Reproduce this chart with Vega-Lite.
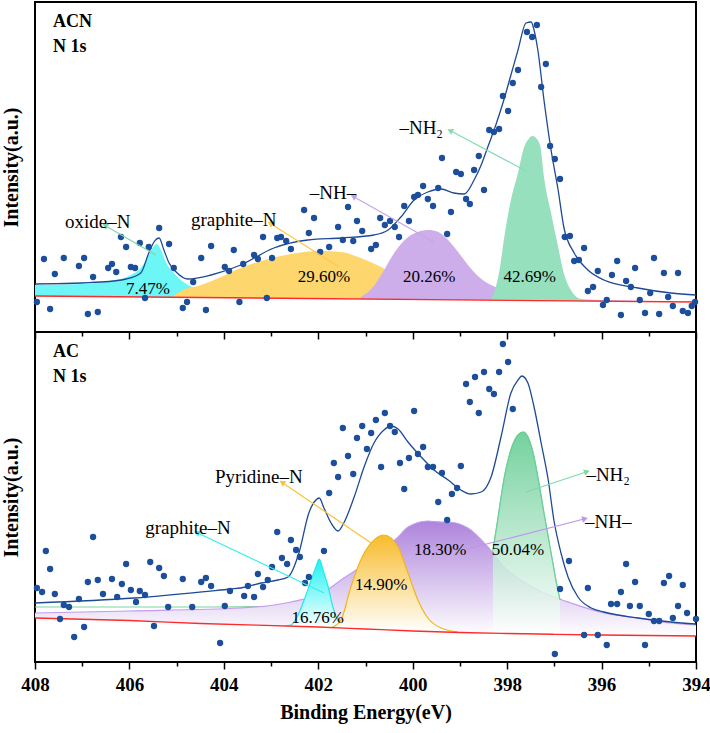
{
"$schema": "https://vega.github.io/schema/vega-lite/v6.json",
"background": "white",
"padding": {"left": 0, "top": 1, "right": 0, "bottom": 4},
"bounds": "flush",
"spacing": 0,
"config": {"view": {"stroke": "#000000", "strokeWidth": 2}, "axis": {"grid": false}, "text": {"font": "Liberation Serif", "color": "#000000"}},
"datasets": {
"top_pts": [{"be":407.96,"I":30},{"be":407.81,"I":73},{"be":407.68,"I":23},{"be":407.58,"I":58},{"be":407.39,"I":74},{"be":407.07,"I":66},{"be":406.96,"I":74},{"be":406.88,"I":18},{"be":406.77,"I":55},{"be":406.67,"I":20},{"be":406.45,"I":64},{"be":406.37,"I":68},{"be":406.28,"I":60},{"be":406.18,"I":95},{"be":406.07,"I":85},{"be":405.97,"I":65},{"be":405.88,"I":64},{"be":405.78,"I":89},{"be":405.67,"I":34},{"be":405.59,"I":85},{"be":405.37,"I":104},{"be":405.16,"I":88},{"be":405.06,"I":64},{"be":404.87,"I":24},{"be":404.78,"I":30},{"be":404.65,"I":50},{"be":404.48,"I":74},{"be":404.38,"I":22},{"be":404.27,"I":86},{"be":403.98,"I":65},{"be":403.89,"I":61},{"be":403.79,"I":82},{"be":403.67,"I":30},{"be":403.59,"I":68},{"be":403.36,"I":77},{"be":403.28,"I":73},{"be":403.17,"I":95},{"be":403.09,"I":34},{"be":402.98,"I":74},{"be":402.87,"I":94},{"be":402.79,"I":95},{"be":402.68,"I":91},{"be":402.58,"I":83},{"be":402.30,"I":122},{"be":402.20,"I":99},{"be":402.09,"I":114},{"be":401.96,"I":80},{"be":401.77,"I":85},{"be":401.58,"I":105},{"be":401.48,"I":92},{"be":401.37,"I":125},{"be":401.26,"I":91},{"be":401.18,"I":111},{"be":401.07,"I":101},{"be":400.88,"I":83},{"be":400.78,"I":87},{"be":400.69,"I":114},{"be":400.59,"I":107},{"be":400.48,"I":111},{"be":400.38,"I":105},{"be":400.29,"I":95},{"be":400.18,"I":126},{"be":400.08,"I":111},{"be":399.97,"I":135},{"be":399.89,"I":137},{"be":399.78,"I":146},{"be":399.68,"I":133},{"be":399.57,"I":126},{"be":399.46,"I":144},{"be":399.38,"I":174},{"be":399.27,"I":98},{"be":399.19,"I":120},{"be":399.08,"I":160},{"be":398.98,"I":158},{"be":398.87,"I":133},{"be":398.79,"I":128},{"be":398.70,"I":162},{"be":398.60,"I":176},{"be":398.49,"I":142},{"be":398.38,"I":202},{"be":398.28,"I":200},{"be":398.17,"I":203},{"be":398.09,"I":236},{"be":397.98,"I":221},{"be":397.88,"I":249},{"be":397.77,"I":262},{"be":397.58,"I":300},{"be":397.47,"I":295},{"be":397.37,"I":307},{"be":397.28,"I":245},{"be":397.18,"I":268},{"be":397.09,"I":186},{"be":396.99,"I":173},{"be":396.88,"I":153},{"be":396.78,"I":95},{"be":396.67,"I":96},{"be":396.58,"I":71},{"be":396.48,"I":72},{"be":396.37,"I":84},{"be":396.29,"I":41},{"be":396.18,"I":45},{"be":396.08,"I":61},{"be":395.97,"I":27},{"be":395.89,"I":32},{"be":395.78,"I":57},{"be":395.67,"I":71},{"be":395.59,"I":17},{"be":395.48,"I":51},{"be":395.38,"I":45},{"be":395.29,"I":64},{"be":395.19,"I":32},{"be":395.08,"I":19},{"be":394.97,"I":39},{"be":394.89,"I":74},{"be":394.78,"I":18},{"be":394.68,"I":59},{"be":394.59,"I":35},{"be":394.49,"I":26},{"be":394.38,"I":59},{"be":394.28,"I":21},{"be":394.17,"I":19},{"be":394.09,"I":26},{"be":394.02,"I":30}],
"top_env": [{"be":408.00,"I":48},{"be":406.60,"I":50},{"be":406.07,"I":53},{"be":405.76,"I":59},{"be":405.59,"I":79},{"be":405.48,"I":90},{"be":405.37,"I":94},{"be":405.27,"I":82},{"be":405.16,"I":69},{"be":405.01,"I":60},{"be":404.76,"I":53},{"be":404.27,"I":57},{"be":403.64,"I":67},{"be":402.94,"I":84},{"be":402.22,"I":92},{"be":401.52,"I":94},{"be":400.82,"I":97},{"be":400.52,"I":102},{"be":400.25,"I":115},{"be":399.97,"I":132},{"be":399.68,"I":140},{"be":399.40,"I":143},{"be":399.13,"I":139},{"be":398.91,"I":138},{"be":398.70,"I":152},{"be":398.55,"I":167},{"be":398.41,"I":185},{"be":398.24,"I":207},{"be":398.07,"I":232},{"be":397.92,"I":257},{"be":397.77,"I":282},{"be":397.60,"I":309},{"be":397.49,"I":310},{"be":397.43,"I":302},{"be":397.35,"I":282},{"be":397.22,"I":232},{"be":397.07,"I":182},{"be":396.92,"I":142},{"be":396.80,"I":105},{"be":396.58,"I":79},{"be":396.29,"I":62},{"be":395.95,"I":52},{"be":395.23,"I":44},{"be":394.53,"I":39},{"be":394.00,"I":37}],
"top_base": [{"be":408,"I":36},{"be":394,"I":30}],
"top_cyan": [{"be":408.00,"I":47,"base":36},{"be":407.03,"I":48,"base":35.6},{"be":406.39,"I":51,"base":35.3},{"be":405.97,"I":57,"base":35.1},{"be":405.76,"I":64,"base":35.0},{"be":405.59,"I":77,"base":34.9},{"be":405.48,"I":86,"base":34.9},{"be":405.42,"I":88,"base":34.9},{"be":405.33,"I":82,"base":34.9},{"be":405.23,"I":70,"base":34.8},{"be":405.06,"I":59,"base":34.7},{"be":404.91,"I":52,"base":34.7},{"be":404.76,"I":47,"base":34.6},{"be":404.48,"I":42,"base":34.5},{"be":404.17,"I":39,"base":34.4},{"be":403.64,"I":37,"base":34.1},{"be":403.20,"I":35,"base":33.9}],
"top_yellow": [{"be":405.10,"I":35,"base":34.7},{"be":404.91,"I":41,"base":34.7},{"be":404.48,"I":47,"base":34.5},{"be":404.06,"I":55,"base":34.3},{"be":403.64,"I":64,"base":34.1},{"be":403.21,"I":71,"base":33.9},{"be":402.58,"I":78,"base":33.6},{"be":401.94,"I":81,"base":33.4},{"be":401.52,"I":80,"base":33.2},{"be":401.10,"I":74,"base":33.0},{"be":400.67,"I":65,"base":32.9},{"be":400.25,"I":54,"base":32.7},{"be":399.82,"I":45,"base":32.5},{"be":399.40,"I":39,"base":32.3},{"be":398.77,"I":35,"base":32.0},{"be":398.13,"I":33,"base":31.8},{"be":397.28,"I":32,"base":31.4}],
"top_purple": [{"be":401.10,"I":35,"base":33.0},{"be":400.84,"I":45,"base":32.9},{"be":400.63,"I":60,"base":32.8},{"be":400.42,"I":77,"base":32.7},{"be":400.21,"I":90,"base":32.6},{"be":399.95,"I":99,"base":32.5},{"be":399.68,"I":102,"base":32.4},{"be":399.46,"I":100,"base":32.3},{"be":399.25,"I":92,"base":32.2},{"be":399.04,"I":80,"base":32.1},{"be":398.83,"I":67,"base":32.0},{"be":398.62,"I":56,"base":31.9},{"be":398.34,"I":47,"base":31.8},{"be":398.02,"I":42,"base":31.7},{"be":397.49,"I":37,"base":31.5},{"be":396.86,"I":34,"base":31.2},{"be":396.01,"I":32,"base":30.9},{"be":394.95,"I":31,"base":30.4},{"be":394.00,"I":30,"base":30.0}],
"top_green": [{"be":398.34,"I":32,"base":31.8},{"be":398.24,"I":45,"base":31.7},{"be":398.15,"I":65,"base":31.7},{"be":398.07,"I":92,"base":31.7},{"be":397.92,"I":132,"base":31.6},{"be":397.77,"I":159,"base":31.6},{"be":397.64,"I":185,"base":31.5},{"be":397.56,"I":192,"base":31.5},{"be":397.47,"I":196,"base":31.5},{"be":397.39,"I":194,"base":31.4},{"be":397.30,"I":186,"base":31.4},{"be":397.22,"I":155,"base":31.4},{"be":397.07,"I":119,"base":31.3},{"be":396.92,"I":85,"base":31.3},{"be":396.80,"I":59,"base":31.2},{"be":396.65,"I":42,"base":31.2},{"be":396.50,"I":34,"base":31.1},{"be":396.33,"I":32,"base":31.1}],
"top_arrows": [{"n":"a1","be":405.44,"I":77,"be2":406.50,"I2":106},{"n":"a2","be":401.56,"I":65,"be2":403.00,"I2":108},{"n":"a3","be":399.55,"I":90,"be2":401.24,"I2":135},{"n":"a4","be":397.60,"I":161,"be2":399.19,"I2":201}],
"top_labels": [{"be":406.67,"I":110,"t":"oxide–N"},{"be":403.79,"I":112,"t":"graphite–N"},{"be":401.69,"I":139,"t":"–NH–"},{"be":399.82,"I":204,"t":"–NH₂"}],
"top_pct": [{"be":405.61,"I":43,"t":"7.47%"},{"be":401.88,"I":55,"t":"29.60%"},{"be":399.65,"I":55,"t":"20.26%"},{"be":397.52,"I":55,"t":"42.69%"}],
"top_name": [{"be":407.62,"I":310,"t":"ACN"},{"be":407.62,"I":285,"t":"N 1s"}],
"bot_pts": [{"be":407.96,"I":74},{"be":407.85,"I":70},{"be":407.77,"I":111},{"be":407.68,"I":93},{"be":407.58,"I":68},{"be":407.47,"I":43},{"be":407.39,"I":57},{"be":407.28,"I":55},{"be":407.17,"I":25},{"be":407.07,"I":63},{"be":406.96,"I":35},{"be":406.88,"I":80},{"be":406.77,"I":125},{"be":406.67,"I":82},{"be":406.56,"I":68},{"be":406.37,"I":83},{"be":406.26,"I":65},{"be":406.16,"I":78},{"be":406.07,"I":98},{"be":405.97,"I":72},{"be":405.86,"I":60},{"be":405.78,"I":71},{"be":405.67,"I":67},{"be":405.56,"I":100},{"be":405.48,"I":36},{"be":405.37,"I":94},{"be":405.27,"I":86},{"be":405.18,"I":55},{"be":404.87,"I":83},{"be":404.67,"I":55},{"be":404.48,"I":80},{"be":404.38,"I":84},{"be":404.27,"I":76},{"be":404.08,"I":19},{"be":403.98,"I":56},{"be":403.87,"I":71},{"be":403.57,"I":66},{"be":403.49,"I":76},{"be":403.36,"I":65},{"be":403.28,"I":88},{"be":403.17,"I":75},{"be":403.07,"I":82},{"be":402.98,"I":95},{"be":402.87,"I":130},{"be":402.77,"I":104},{"be":402.66,"I":98},{"be":402.58,"I":122},{"be":402.47,"I":112},{"be":402.39,"I":105},{"be":402.28,"I":79},{"be":402.20,"I":85},{"be":401.88,"I":111},{"be":401.77,"I":169},{"be":401.67,"I":199},{"be":401.58,"I":185},{"be":401.48,"I":234},{"be":401.37,"I":206},{"be":401.26,"I":188},{"be":401.18,"I":224},{"be":401.07,"I":236},{"be":400.97,"I":213},{"be":400.88,"I":229},{"be":400.78,"I":242},{"be":400.67,"I":195},{"be":400.59,"I":249},{"be":400.48,"I":236},{"be":400.38,"I":230},{"be":400.27,"I":199},{"be":400.18,"I":173},{"be":400.08,"I":204},{"be":399.97,"I":251},{"be":399.89,"I":208},{"be":399.78,"I":215},{"be":399.68,"I":195},{"be":399.57,"I":195},{"be":399.46,"I":160},{"be":399.38,"I":189},{"be":399.27,"I":142},{"be":399.17,"I":168},{"be":399.06,"I":174},{"be":398.98,"I":196},{"be":398.87,"I":278},{"be":398.79,"I":260},{"be":398.68,"I":285},{"be":398.60,"I":249},{"be":398.49,"I":290},{"be":398.38,"I":273},{"be":398.28,"I":268},{"be":398.17,"I":290},{"be":398.09,"I":318},{"be":397.98,"I":300},{"be":397.88,"I":253},{"be":396.99,"I":8},{"be":396.88,"I":73},{"be":396.69,"I":101},{"be":396.37,"I":27},{"be":396.29,"I":74},{"be":396.08,"I":27},{"be":395.89,"I":17},{"be":395.80,"I":58},{"be":395.67,"I":58},{"be":395.59,"I":70},{"be":395.48,"I":98},{"be":395.40,"I":56},{"be":395.29,"I":80},{"be":395.19,"I":56},{"be":395.08,"I":17},{"be":395.00,"I":48},{"be":394.89,"I":41},{"be":394.78,"I":41},{"be":394.68,"I":79},{"be":394.57,"I":86},{"be":394.49,"I":44},{"be":394.38,"I":56},{"be":394.28,"I":77},{"be":394.19,"I":49},{"be":394.00,"I":43}],
"bot_env": [{"be":408.00,"I":59},{"be":405.90,"I":64},{"be":403.85,"I":73},{"be":403.64,"I":74},{"be":403.21,"I":79},{"be":402.85,"I":82},{"be":402.64,"I":85},{"be":402.41,"I":109},{"be":402.20,"I":149},{"be":402.05,"I":162},{"be":401.98,"I":164},{"be":401.88,"I":154},{"be":401.73,"I":139},{"be":401.58,"I":131},{"be":401.46,"I":139},{"be":401.24,"I":165},{"be":401.03,"I":195},{"be":400.82,"I":219},{"be":400.61,"I":232},{"be":400.46,"I":236},{"be":400.31,"I":233},{"be":400.10,"I":220},{"be":399.82,"I":205},{"be":399.55,"I":192},{"be":399.25,"I":182},{"be":398.98,"I":172},{"be":398.77,"I":168},{"be":398.55,"I":170},{"be":398.34,"I":185},{"be":398.13,"I":225},{"be":397.92,"I":269},{"be":397.77,"I":282},{"be":397.69,"I":286},{"be":397.56,"I":279},{"be":397.43,"I":255},{"be":397.28,"I":219},{"be":397.13,"I":182},{"be":397.01,"I":142},{"be":396.86,"I":109},{"be":396.71,"I":85},{"be":396.50,"I":65},{"be":396.22,"I":54},{"be":395.95,"I":50},{"be":395.23,"I":44},{"be":394.53,"I":40},{"be":394.00,"I":38}],
"bot_base": [{"be":408,"I":44},{"be":406,"I":41.5},{"be":404.5,"I":38.5},{"be":402,"I":35},{"be":401,"I":33},{"be":400,"I":31},{"be":399,"I":29.5},{"be":398,"I":28.5},{"be":397,"I":27.7},{"be":396,"I":27},{"be":394,"I":26}],
"bot_purple": [{"be":408.00,"I":49,"base":44},{"be":406.00,"I":51,"base":41.5},{"be":403.64,"I":54,"base":37.5},{"be":402.58,"I":60,"base":36},{"be":401.88,"I":70,"base":34.8},{"be":401.46,"I":84,"base":34},{"be":401.10,"I":95,"base":33.2},{"be":400.67,"I":110,"base":32.3},{"be":400.31,"I":125,"base":31.6},{"be":400.10,"I":135,"base":31.2},{"be":399.68,"I":141,"base":30.5},{"be":399.40,"I":140,"base":30.1},{"be":399.25,"I":140,"base":29.9},{"be":398.83,"I":134,"base":29.3},{"be":398.41,"I":115,"base":28.9},{"be":398.07,"I":95,"base":28.6},{"be":397.71,"I":82,"base":28.3},{"be":397.35,"I":72,"base":28},{"be":397.01,"I":65,"base":27.7},{"be":396.65,"I":59,"base":27.5},{"be":395.95,"I":49,"base":27},{"be":395.23,"I":44,"base":26.6},{"be":394.53,"I":39,"base":26.3},{"be":394.00,"I":37,"base":26}],
"bot_cyan": [{"be":402.70,"I":36,"base":35.4},{"be":402.58,"I":37,"base":35.3},{"be":402.45,"I":45,"base":35.2},{"be":402.30,"I":62,"base":35},{"be":402.15,"I":82,"base":34.9},{"be":402.05,"I":95,"base":34.9},{"be":401.98,"I":103,"base":34.8},{"be":401.90,"I":92,"base":34.7},{"be":401.79,"I":75,"base":34.5},{"be":401.69,"I":55,"base":34.4},{"be":401.56,"I":40,"base":34.2},{"be":401.37,"I":36,"base":34},{"be":401.20,"I":35,"base":33.7}],
"bot_yellow": [{"be":401.70,"I":35,"base":34.5},{"be":401.52,"I":42,"base":34.2},{"be":401.31,"I":75,"base":33.8},{"be":401.10,"I":102,"base":33.2},{"be":400.88,"I":119,"base":32.8},{"be":400.61,"I":127,"base":32.2},{"be":400.31,"I":115,"base":31.6},{"be":400.10,"I":89,"base":31.2},{"be":399.89,"I":62,"base":30.8},{"be":399.68,"I":44,"base":30.5},{"be":399.40,"I":34,"base":30.1},{"be":399.04,"I":30,"base":29.6}],
"bot_green_line": [{"be":408.00,"I":55},{"be":404.48,"I":55},{"be":402.37,"I":56},{"be":399.19,"I":58},{"be":398.55,"I":70},{"be":398.41,"I":90},{"be":398.30,"I":112},{"be":398.20,"I":142},{"be":398.07,"I":182},{"be":397.92,"I":212},{"be":397.77,"I":227},{"be":397.66,"I":230},{"be":397.56,"I":225},{"be":397.45,"I":209},{"be":397.35,"I":185},{"be":397.22,"I":149},{"be":397.07,"I":109},{"be":396.94,"I":75},{"be":396.88,"I":62}],
"bot_green": [{"be":398.30,"I":112,"base":28.8},{"be":398.20,"I":142,"base":28.7},{"be":398.07,"I":182,"base":28.6},{"be":397.92,"I":212,"base":28.4},{"be":397.77,"I":227,"base":28.3},{"be":397.66,"I":230,"base":28.2},{"be":397.56,"I":225,"base":28.1},{"be":397.45,"I":209,"base":28},{"be":397.35,"I":185,"base":27.9},{"be":397.22,"I":149,"base":27.8},{"be":397.07,"I":109,"base":27.7},{"be":396.94,"I":75,"base":27.6},{"be":396.88,"I":62,"base":27.6}],
"bot_arrows": [{"n":"b1","be":401.88,"I":69,"be2":404.55,"I2":129},{"n":"b2","be":400.88,"I":119,"be2":402.75,"I2":179},{"n":"b3","be":397.60,"I":170,"be2":396.33,"I2":190},{"n":"b4","be":398.93,"I":112,"be2":396.37,"I2":143}],
"bot_labels": [{"be":404.76,"I":134,"t":"graphite–N"},{"be":403.26,"I":185,"t":"Pyridine–N"},{"be":395.86,"I":187,"t":"–NH₂"},{"be":395.86,"I":140,"t":"–NH–"}],
"bot_pct": [{"be":402.01,"I":44,"t":"16.76%"},{"be":400.67,"I":77,"t":"14.90%"},{"be":399.42,"I":112,"t":"18.30%"},{"be":397.77,"I":112,"t":"50.04%"}],
"bot_name": [{"be":407.62,"I":310,"t":"AC"},{"be":407.62,"I":285,"t":"N 1s"}]
},
"vconcat": [
{
"width": 661, "height": 330,
"encoding": {
"x": {"field": "be", "type": "quantitative", "scale": {"domain": [394, 408], "reverse": true, "nice": false},
  "axis": {"title": null, "labels": false, "values": [408,407,406,405,404,403,402,401,400,399,398,397,396,395,394], "tickSize": {"condition": {"test": "datum.value % 2 === 0", "value": 7}, "value": 4}, "tickColor": "#000000", "tickWidth": 1.5, "domain": false, "grid": false}},
"y": {"field": "I", "type": "quantitative", "scale": {"domain": [0, 330], "nice": false, "zero": false},
  "axis": {"title": "Intensity(a.u.)", "labels": false, "ticks": false, "domain": false, "grid": false, "titleFont": "Liberation Serif", "titleFontSize": 20, "titleFontWeight": "bold", "titleColor": "#000000", "titlePadding": 14}}
},
"layer": [
{"data": {"name": "top_cyan"}, "mark": {"type": "area", "color": "#6CF6F6", "opacity": 1, "interpolate": "monotone"}, "encoding": {"y2": {"field": "base"}}},
{"data": {"name": "top_yellow"}, "mark": {"type": "area", "color": "#FDD66E", "opacity": 1, "interpolate": "monotone"}, "encoding": {"y2": {"field": "base"}}},
{"data": {"name": "top_purple"}, "mark": {"type": "area", "color": "#CDAEEA", "opacity": 1, "interpolate": "monotone"}, "encoding": {"y2": {"field": "base"}}},
{"data": {"name": "top_green"}, "mark": {"type": "area", "color": "#97E0BE", "opacity": 1, "interpolate": "monotone"}, "encoding": {"y2": {"field": "base"}}},
{"data": {"name": "top_base"}, "mark": {"type": "line", "color": "#FF2A2A", "strokeWidth": 1.3}, "encoding": {}},
{"data": {"name": "top_env"}, "mark": {"type": "line", "color": "#1E4A95", "strokeWidth": 1.3, "interpolate": "monotone"}, "encoding": {}},
{"data": {"name": "top_pts"}, "mark": {"type": "point", "filled": true, "shape": "circle", "size": 40, "color": "#1D4E9B", "opacity": 1}, "encoding": {}},
{"data": {"name": "top_arrows"}, "mark": {"type": "rule", "strokeWidth": 1.2}, "encoding": {"x2": {"field": "be2"}, "y2": {"field": "I2"}, "color": {"field": "n", "type": "nominal", "legend": null, "scale": {"domain": ["a1","a2","a3","a4","b1","b2","b3","b4"], "range": ["#7FD6A6","#FFC843","#C7A3EC","#85DDB1","#33EEEE","#FBC13A","#7DD9A5","#BE96EA"]}}}},
{"data": {"values": [{"be": 406.50, "I": 106}]}, "mark": {"type": "point", "shape": "triangle", "filled": true, "size": 45, "angle": 300, "color": "#7FD6A6", "opacity": 1}, "encoding": {}},
{"data": {"values": [{"be": 403.00, "I": 108}]}, "mark": {"type": "point", "shape": "triangle", "filled": true, "size": 45, "angle": 302, "color": "#FFC843", "opacity": 1}, "encoding": {}},
{"data": {"values": [{"be": 401.24, "I": 135}]}, "mark": {"type": "point", "shape": "triangle", "filled": true, "size": 45, "angle": 299, "color": "#C7A3EC", "opacity": 1}, "encoding": {}},
{"data": {"values": [{"be": 399.19, "I": 201}]}, "mark": {"type": "point", "shape": "triangle", "filled": true, "size": 45, "angle": 298, "color": "#85DDB1", "opacity": 1}, "encoding": {}},
{"data": {"name": "top_labels"}, "mark": {"type": "text", "fontSize": 19, "font": "Liberation Serif", "color": "#000000", "align": "center", "baseline": "middle"}, "encoding": {"text": {"field": "t"}}},
{"data": {"name": "top_pct"}, "mark": {"type": "text", "fontSize": 17, "font": "Liberation Serif", "color": "#000000", "align": "center", "baseline": "middle"}, "encoding": {"text": {"field": "t"}}},
{"data": {"name": "top_name"}, "mark": {"type": "text", "fontSize": 18, "font": "Liberation Serif", "fontWeight": "bold", "color": "#000000", "align": "left", "baseline": "middle"}, "encoding": {"text": {"field": "t"}}}
]
},
{
"width": 661, "height": 330,
"encoding": {
"x": {"field": "be", "type": "quantitative", "scale": {"domain": [394, 408], "reverse": true, "nice": false},
  "axis": {"title": "Binding Energy(eV)", "values": [408,407,406,405,404,403,402,401,400,399,398,397,396,395,394], "labelExpr": "datum.value % 2 === 0 ? datum.label : ''", "tickSize": {"condition": {"test": "datum.value % 2 === 0", "value": 7}, "value": 4}, "tickColor": "#000000", "tickWidth": 1.5, "domain": false, "grid": false, "labelFont": "Liberation Serif", "labelFontSize": 19, "labelFontWeight": "bold", "labelColor": "#000000", "labelPadding": 6, "labelFlush": false, "labelOverlap": false, "titleFont": "Liberation Serif", "titleFontSize": 20, "titleFontWeight": "bold", "titleColor": "#000000", "titlePadding": 8}},
"y": {"field": "I", "type": "quantitative", "scale": {"domain": [0, 330], "nice": false, "zero": false},
  "axis": {"title": "Intensity(a.u.)", "labels": false, "ticks": false, "domain": false, "grid": false, "titleFont": "Liberation Serif", "titleFontSize": 20, "titleFontWeight": "bold", "titleColor": "#000000", "titlePadding": 14}}
},
"layer": [
{"data": {"name": "bot_green_line"}, "mark": {"type": "line", "color": "#7DD3A0", "strokeWidth": 1.2, "interpolate": "monotone"}, "encoding": {}},
{"data": {"name": "bot_purple"}, "mark": {"type": "area", "interpolate": "monotone", "opacity": 1, "color": {"gradient": "linear", "x1": 0, "y1": 0, "x2": 0, "y2": 1, "stops": [{"offset": 0, "color": "#AE84DC"}, {"offset": 1, "color": "#FFFFFF"}]}, "line": {"color": "#C29DEA", "strokeWidth": 1.2}}, "encoding": {"y2": {"field": "base"}}},
{"data": {"name": "bot_cyan"}, "mark": {"type": "area", "interpolate": "monotone", "opacity": 1, "color": {"gradient": "linear", "x1": 0, "y1": 0, "x2": 0, "y2": 1, "stops": [{"offset": 0, "color": "#1EF2F2"}, {"offset": 1, "color": "#FFFFFF"}]}, "line": {"color": "#22E8E8", "strokeWidth": 1.2}}, "encoding": {"y2": {"field": "base"}}},
{"data": {"name": "bot_yellow"}, "mark": {"type": "area", "interpolate": "monotone", "opacity": 1, "color": {"gradient": "linear", "x1": 0, "y1": 0, "x2": 0, "y2": 1, "stops": [{"offset": 0, "color": "#F8BC2C"}, {"offset": 1, "color": "#FFFFFF"}]}, "line": {"color": "#F2B51F", "strokeWidth": 1.2}}, "encoding": {"y2": {"field": "base"}}},
{"data": {"name": "bot_green"}, "mark": {"type": "area", "interpolate": "monotone", "opacity": 0.85, "color": {"gradient": "linear", "x1": 0, "y1": 0, "x2": 0, "y2": 1, "stops": [{"offset": 0, "color": "#5CC98D"}, {"offset": 1, "color": "#FFFFFF"}]}, "line": {"color": "#6CCF98", "strokeWidth": 1.2}}, "encoding": {"y2": {"field": "base"}}},
{"data": {"name": "bot_base"}, "mark": {"type": "line", "color": "#FF2A2A", "strokeWidth": 1.3, "interpolate": "monotone"}, "encoding": {}},
{"data": {"name": "bot_env"}, "mark": {"type": "line", "color": "#1E4A95", "strokeWidth": 1.3, "interpolate": "monotone"}, "encoding": {}},
{"data": {"name": "bot_pts"}, "mark": {"type": "point", "filled": true, "shape": "circle", "size": 40, "color": "#1D4E9B", "opacity": 1}, "encoding": {}},
{"data": {"name": "bot_arrows"}, "mark": {"type": "rule", "strokeWidth": 1.2}, "encoding": {"x2": {"field": "be2"}, "y2": {"field": "I2"}, "color": {"field": "n", "type": "nominal", "legend": null, "scale": {"domain": ["a1","a2","a3","a4","b1","b2","b3","b4"], "range": ["#7FD6A6","#FFC843","#C7A3EC","#85DDB1","#33EEEE","#FBC13A","#7DD9A5","#BE96EA"]}}}},
{"data": {"values": [{"be": 404.55, "I": 129}]}, "mark": {"type": "point", "shape": "triangle", "filled": true, "size": 45, "angle": 295, "color": "#33EEEE", "opacity": 1}, "encoding": {}},
{"data": {"values": [{"be": 402.75, "I": 179}]}, "mark": {"type": "point", "shape": "triangle", "filled": true, "size": 45, "angle": 304, "color": "#FBC13A", "opacity": 1}, "encoding": {}},
{"data": {"values": [{"be": 396.33, "I": 190}]}, "mark": {"type": "point", "shape": "triangle", "filled": true, "size": 45, "angle": 72, "color": "#7DD9A5", "opacity": 1}, "encoding": {}},
{"data": {"values": [{"be": 396.37, "I": 143}]}, "mark": {"type": "point", "shape": "triangle", "filled": true, "size": 45, "angle": 76, "color": "#BE96EA", "opacity": 1}, "encoding": {}},
{"data": {"name": "bot_labels"}, "mark": {"type": "text", "fontSize": 19, "font": "Liberation Serif", "color": "#000000", "align": "center", "baseline": "middle"}, "encoding": {"text": {"field": "t"}}},
{"data": {"name": "bot_pct"}, "mark": {"type": "text", "fontSize": 17, "font": "Liberation Serif", "color": "#000000", "align": "center", "baseline": "middle"}, "encoding": {"text": {"field": "t"}}},
{"data": {"name": "bot_name"}, "mark": {"type": "text", "fontSize": 18, "font": "Liberation Serif", "fontWeight": "bold", "color": "#000000", "align": "left", "baseline": "middle"}, "encoding": {"text": {"field": "t"}}}
]
}
]
}
